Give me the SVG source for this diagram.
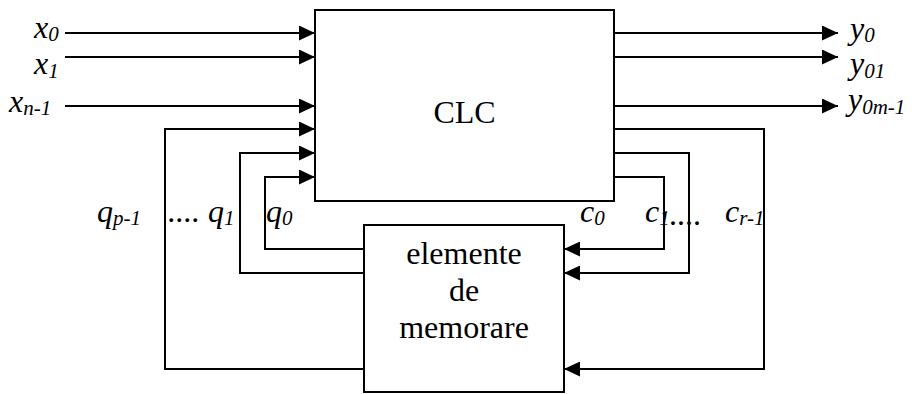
<svg xmlns="http://www.w3.org/2000/svg" width="914" height="394" viewBox="0 0 914 394">
<style>
.ln{fill:none;stroke:#000;stroke-width:2}
.box{fill:#fff;stroke:#000;stroke-width:2}
.t{font-family:"Liberation Serif","Times New Roman",serif;font-size:32px;fill:#000}
.i{font-family:"Liberation Serif","Times New Roman",serif;font-size:32px;font-style:italic;fill:#000}
.s{font-size:21px}
</style>
<defs>
<marker id="ah" markerUnits="userSpaceOnUse" markerWidth="16" markerHeight="15" refX="16" refY="7.5" orient="auto" viewBox="0 0 16 15">
<path d="M0,0 L16,7.5 L0,15 z" fill="#000"/>
</marker>
</defs>
<g id="connectors">
<path class="ln" d="M65,33 H315" marker-end="url(#ah)"/>
<path class="ln" d="M65,57 H315" marker-end="url(#ah)"/>
<path class="ln" d="M65,106 H315" marker-end="url(#ah)"/>
<path class="ln" d="M614,33 H838" marker-end="url(#ah)"/>
<path class="ln" d="M614,57 H838" marker-end="url(#ah)"/>
<path class="ln" d="M614,106 H838" marker-end="url(#ah)"/>
<path class="ln" d="M364,369 H165 V129 H315" marker-end="url(#ah)"/>
<path class="ln" d="M364,273 H240 V153 H315" marker-end="url(#ah)"/>
<path class="ln" d="M364,249 H265 V177 H315" marker-end="url(#ah)"/>
<path class="ln" d="M614,129 H764 V369 H564" marker-end="url(#ah)"/>
<path class="ln" d="M614,153 H689 V273 H564" marker-end="url(#ah)"/>
<path class="ln" d="M614,177 H664 V249 H564" marker-end="url(#ah)"/>
</g>
<g id="clc">
<rect class="box" x="315" y="10" width="299" height="191"/>
<text class="t" x="464.5" y="123" text-anchor="middle">CLC</text>
</g>
<g id="memorie">
<rect class="box" x="364" y="225" width="200" height="167"/>
<text class="t" x="464" y="264" text-anchor="middle">elemente</text>
<text class="t" x="464" y="301" text-anchor="middle">de</text>
<text class="t" x="464" y="338" text-anchor="middle">memorare</text>
</g>
<g id="labels">
<text class="i" x="34" y="38">x<tspan class="s" y="41">0</tspan></text>
<text class="i" x="34" y="74">x<tspan class="s" y="78">1</tspan></text>
<text class="i" x="9" y="112">x<tspan class="s" y="115">n-1</tspan></text>
<text class="i" x="850" y="39">y<tspan class="s" y="42">0</tspan></text>
<text class="i" x="850" y="74">y<tspan class="s" y="78">01</tspan></text>
<text class="i" x="848" y="110">y<tspan class="s" y="114">0m-1</tspan></text>
<text class="i" x="97" y="222">q<tspan class="s" y="225">p-1</tspan></text>
<text class="i" x="168" y="222">.... q<tspan class="s" y="225">1</tspan></text>
<text class="i" x="266" y="222">q<tspan class="s" y="225">0</tspan></text>
<text class="i" x="580" y="222">c<tspan class="s" y="225">0</tspan></text>
<text class="i" x="645" y="222">c<tspan class="s" y="225">1</tspan>....</text>
<text class="i" x="725" y="222">c<tspan class="s" y="225">r-1</tspan></text>
</g>
</svg>
